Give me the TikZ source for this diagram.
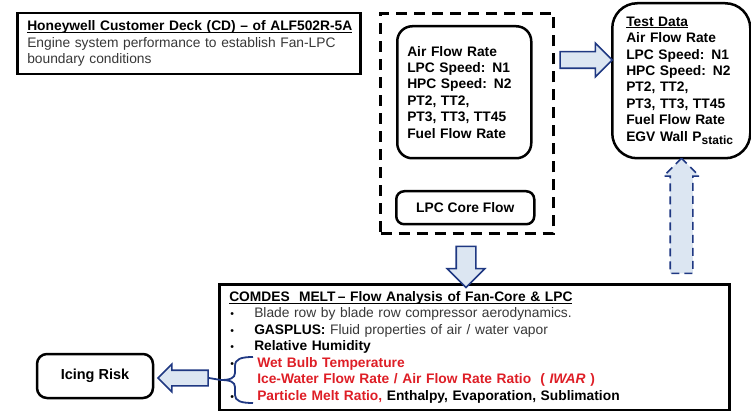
\documentclass[tikz,border=0pt]{standalone}
\usepackage{fontspec}
\setmainfont{Liberation Sans}
\usetikzlibrary{shapes.arrows}

\definecolor{arrowblue}{RGB}{31,56,130}
\definecolor{arrowfill}{RGB}{220,230,242}
\definecolor{warnred}{RGB}{222,30,38}
\definecolor{txtgray}{RGB}{55,55,55}

\newcommand{\bitem}{\makebox[25pt][l]{\hspace{1pt}{\fontsize{10.5}{10}\selectfont\textbullet}}}
\newcommand{\nitem}{\makebox[25pt][l]{}}
\newcommand{\uln}[1]{\underline{\raisebox{0pt}[\height][0pt]{#1}}}

\tikzset{
  blkbox/.style={draw=black, line width=2.5pt, align=left, font=\fontsize{13.8}{16.5}\selectfont},
  roundbox/.style={blkbox, rounded corners=#1, font=\fontsize{13.8}{16.4}\selectfont\bfseries},
  blkarrow/.style={single arrow, draw=arrowblue, fill=arrowfill, line width=1.6pt, inner sep=#1, minimum size=0pt},
}

\begin{document}
\begin{tikzpicture}[x=1pt, y=-1pt]
    \useasboundingbox (0,0) rectangle (751,411);

    % boxes
    \node[blkbox, anchor=north west, inner xsep=10pt, text width=323pt, minimum height=61pt] (deck) at (16,12)
        {\uln{\textbf{Honeywell Customer Deck (CD) -- of ALF502R-5A}}\\
         {\color{txtgray}Engine system performance to establish Fan-LPC}\\
         {\color{txtgray}boundary conditions}};
    \node[draw=black, line width=3pt, dash pattern=on 11pt off 7pt, anchor=north west,
          minimum width=173pt, minimum height=220pt] (sim) at (379,12) {};
    \node[roundbox=15pt, anchor=north west, inner xsep=10pt, text width=114pt, minimum height=132pt] (flow) at (396,25)
        {Air Flow Rate\\ LPC Speed: N1\\ HPC Speed: N2\\ PT2, TT2,\\ PT3, TT3, TT45\\ Fuel Flow Rate};
    \node[roundbox=8pt, anchor=north west, align=center, minimum width=138pt, minimum height=33pt] (core) at (395,190)
        {LPC Core Flow};
    \node[roundbox=25pt, anchor=north west, inner xsep=14pt, text width=110pt, minimum height=155pt] (test) at (611,2)
        {\uln{Test Data}\\ Air Flow Rate\\ LPC Speed: N1\\ HPC Speed: N2\\ PT2, TT2,\\ PT3, TT3, TT45\\ Fuel Flow Rate\\
         EGV Wall P\raisebox{-3.5pt}{\fontsize{12}{12}\selectfont static}};
    \node[blkbox, anchor=north west, inner xsep=10pt, text width=490pt, minimum height=126pt] (melt) at (218,283)
        {\uln{\textbf{COMDES\ \ MELT\,-- Flow Analysis of Fan-Core \& LPC}}\\
         \bitem{\color{txtgray}Blade row by blade row compressor aerodynamics.}\\
         \bitem\textbf{GASPLUS:} {\color{txtgray}Fluid properties of air / water vapor}\\
         \bitem\textbf{Relative Humidity}\\
         \bitem\hspace{3pt}\textcolor{warnred}{\textbf{Wet Bulb Temperature}}\\
         \nitem\hspace{3pt}\textcolor{warnred}{\textbf{Ice-Water Flow Rate / Air Flow Rate Ratio\ \ ( \textit{IWAR} )}}\\
         \bitem\hspace{3pt}\textbf{\textcolor{warnred}{Particle Melt Ratio,} Enthalpy, Evaporation, Sublimation}};
    \node[roundbox=10pt, align=center, minimum width=116pt, minimum height=44pt,
          font=\fontsize{14.5}{16}\selectfont\bfseries] (risk) at (95,376) {Icing Risk};

    % block arrows
    \node[blkarrow=7.5pt, single arrow head extend=8.5pt, minimum height=52pt] (arR) at (582,60) {};
    \node[blkarrow=9pt, single arrow head extend=9pt, minimum height=41pt, shape border rotate=270] (arD) at (466,262) {};
    \node[blkarrow=7pt, single arrow head extend=6pt, minimum height=50pt, shape border rotate=180] (arL) at (187,378) {};
    \node[blkarrow=10.5pt, single arrow head extend=6.5pt, minimum height=115pt, shape border rotate=90,
          dash pattern=on 8pt off 5pt] (arU) at (681.5,221.5) {};

    % brace to icing risk
    \coordinate (bt) at (221,380);
    \draw[arrowblue, line width=1.8pt] (253,357) .. controls (241,357) and (235,359) .. (235,366) -- (235,373)
        .. controls (235,378) and (230,380) .. (bt) .. controls (230,380) and (235,382) .. (235,387) -- (235,395)
        .. controls (235,401) and (241,403) .. (253,403);
    \draw[arrowblue, line width=1.8pt] (bt) -- (arL.tail);
\end{tikzpicture}
\end{document}
